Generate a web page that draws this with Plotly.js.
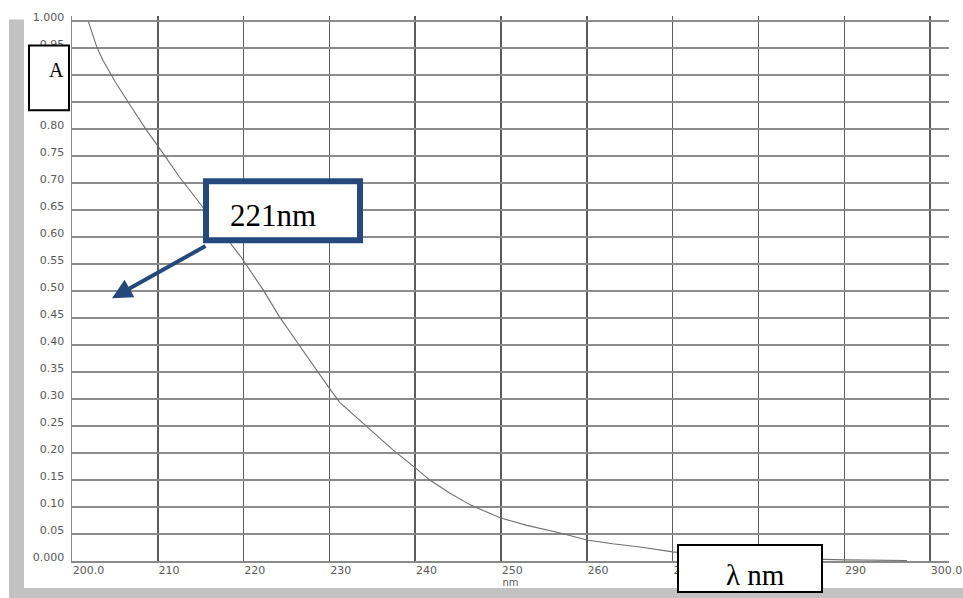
<!DOCTYPE html>
<html>
<head>
<meta charset="utf-8">
<script src="https://cdn.plot.ly/plotly-3.0.1.min.js"></script>
<style>html,body{margin:0;padding:0;background:#fff;}#chart{width:963px;height:598px;}</style>
</head>
<body>
<div id="chart"></div>
<script>
// Spectrum
const wavelength = [201.9, 202.9, 203.6, 205.0, 206.4, 208.7, 210.6, 212.5, 214.6, 216.5, 218.0, 219.8, 222.3, 224.2, 226.3, 228.7, 230.0, 231.2, 234.4, 237.4, 239.9, 241.7, 244.0, 246.4, 249.9, 253.0, 256.9, 260.0, 263.0, 266.2, 270.0, 275.0, 280.0, 285.0, 290.0, 297.3];
const absorbance = [1.000, 0.952, 0.928, 0.889, 0.854, 0.798, 0.756, 0.712, 0.669, 0.630, 0.598, 0.561, 0.502, 0.452, 0.404, 0.348, 0.320, 0.294, 0.248, 0.206, 0.174, 0.150, 0.126, 0.104, 0.080, 0.066, 0.052, 0.039, 0.032, 0.026, 0.017, 0.010, 0.006, 0.004, 0.002, 0.001];

const xTickVals = [200, 210, 220, 230, 240, 250, 260, 270, 280, 290, 300];
const xTickText = ["200.0", "210", "220", "230", "240", "250", "260", "270", "280", "290", "300.0"];
const yTickVals = [0, 0.05, 0.10, 0.15, 0.20, 0.25, 0.30, 0.35, 0.40, 0.45, 0.50, 0.55, 0.60, 0.65, 0.70, 0.75, 0.80, 0.85, 0.90, 0.95, 1.0];
const yTickText = ["0.000", "0.05", "0.10", "0.15", "0.20", "0.25", "0.30", "0.35", "0.40", "0.45", "0.50", "0.55", "0.60", "0.65", "0.70", "0.75", "0.80", "0.85", "0.90", "0.95", "1.000"];

const xAxisTitle = "nm";
const peakLabel = "221nm";
const yBoxLabel = "A";
const xBoxLabel = "λ nm";

// plot-area geometry (pixels)
const L = 72, T = 15.6, W = 877, H = 545.4;
const px = v => (v - L) / W;
const py = v => (T + H - v) / H;

const blue = "#26497c";

const trace = {
  x: wavelength, y: absorbance, type: "scatter", mode: "lines",
  line: {color: "#707070", width: 1.1}, hoverinfo: "skip"
};

const shapes = [
  // grey frame
  {type: "rect", xref: "paper", yref: "paper", x0: px(9), x1: px(24), y0: py(598), y1: py(19), fillcolor: "#c2c2c2", line: {width: 0}, layer: "above"},
  {type: "rect", xref: "paper", yref: "paper", x0: px(9), x1: px(963), y0: py(598), y1: py(588), fillcolor: "#c2c2c2", line: {width: 0}, layer: "above"},
  // A box
  {type: "rect", xref: "paper", yref: "paper", x0: px(29), x1: px(69), y0: py(110), y1: py(45), fillcolor: "#ffffff", line: {color: "#000", width: 2}, layer: "above"},
  // 221nm box
  {type: "rect", xref: "paper", yref: "paper", x0: px(206), x1: px(360), y0: py(240), y1: py(181), fillcolor: "#ffffff", line: {color: blue, width: 6}, layer: "above"},
  // λ nm box
  {type: "rect", xref: "paper", yref: "paper", x0: px(678), x1: px(822), y0: py(592), y1: py(545), fillcolor: "#ffffff", line: {color: "#000", width: 2}, layer: "above"}
];

const annotations = [
  {xref: "paper", yref: "paper", x: px(56), y: py(70), xanchor: "center", yanchor: "middle", text: yBoxLabel, showarrow: false, font: {family: "Liberation Serif", size: 20, color: "#000"}},
  {xref: "paper", yref: "paper", x: px(273), y: py(215), xanchor: "center", yanchor: "middle", text: peakLabel, showarrow: false, font: {family: "Liberation Serif", size: 31, color: "#000"}},
  {xref: "paper", yref: "paper", x: px(755), y: py(575), xanchor: "center", yanchor: "middle", text: xBoxLabel, showarrow: false, font: {family: "Liberation Serif", size: 29, color: "#000"}},
  // arrow
  {xref: "paper", yref: "paper", x: px(112), y: py(298), text: "", showarrow: true,
   axref: "pixel", ayref: "pixel", ax: 207 - 112, ay: 245 - 298,
   arrowcolor: blue, arrowwidth: 4, arrowhead: 2, arrowsize: 1, standoff: 0, startstandoff: 0}
];

const layout = {
  width: 963, height: 598,
  margin: {l: L, r: 963 - L - W, t: T, b: 598 - T - H, pad: 0},
  paper_bgcolor: "#ffffff", plot_bgcolor: "#ffffff",
  showlegend: false,
  xaxis: {
    range: [200, 302.2], tickvals: xTickVals, ticktext: xTickText,
    ticks: "", ticklabelposition: "outside right", ticklabelstandoff: -2,
    tickfont: {family: "DejaVu Sans", size: 11, color: "#5a5a5a"},
    showgrid: true, gridcolor: "#5c5c5c", gridwidth: 1.6,
    zeroline: false, showline: true, linecolor: "#8a8a8a", linewidth: 1.5,
    title: {text: xAxisTitle, font: {family: "DejaVu Sans", size: 10, color: "#5a5a5a"}, standoff: 2},
    fixedrange: true
  },
  yaxis: {
    range: [0, 1.01], tickvals: yTickVals, ticktext: yTickText,
    ticks: "", ticklabelshift: -4, ticklabelstandoff: 4,
    tickfont: {family: "DejaVu Sans", size: 11, color: "#5a5a5a"},
    showgrid: true, gridcolor: "#8c8c8c", gridwidth: 2,
    zeroline: false, showline: true, linecolor: "#8a8a8a", linewidth: 1.5,
    fixedrange: true
  },
  shapes: shapes,
  annotations: annotations
};

Plotly.newPlot("chart", [trace], layout, {displayModeBar: false, staticPlot: true});
</script>
</body>
</html>
